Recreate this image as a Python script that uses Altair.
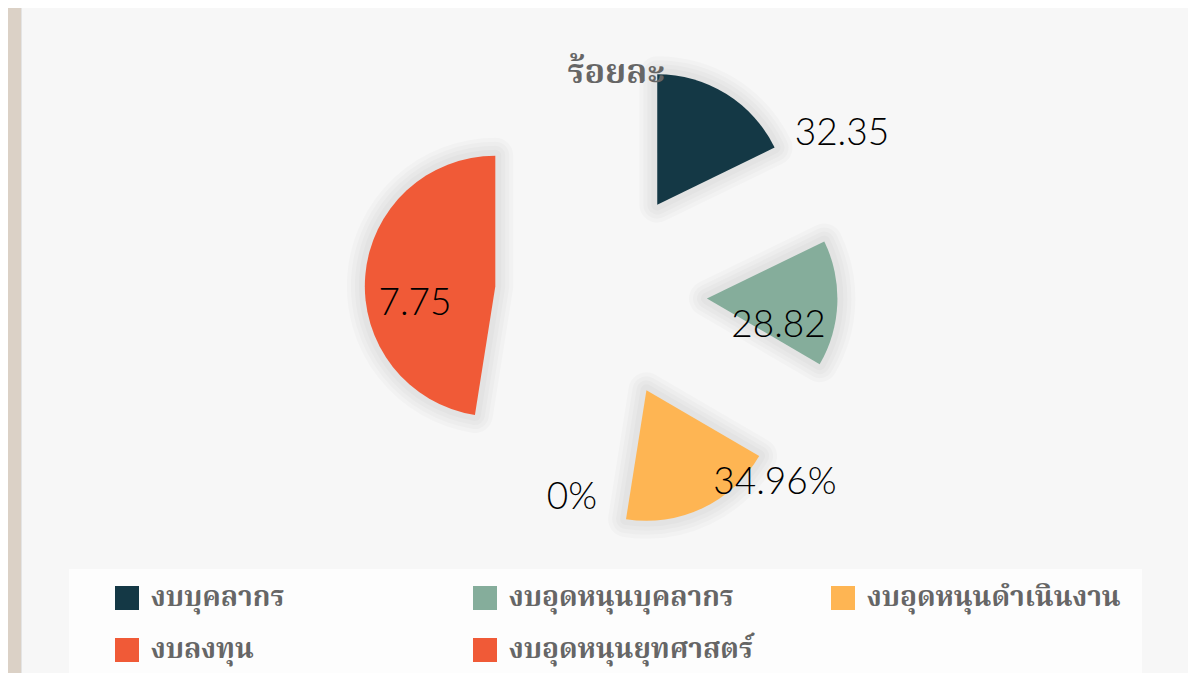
import altair as alt
import pandas as pd

# ---------------- data ----------------
categories = ["งบบุคลากร", "งบอุดหนุนบุคลากร", "งบอุดหนุนดำเนินงาน", "งบลงทุน", "งบอุดหนุนยุทศาสตร์"]
shares = [17.8, 15.6, 19.1, 0.0, 47.5]          # angular share of each slice (%)
value_labels = ["32.35", "28.82", "34.96%", "0%", "7.75"]
colors = ["#143845", "#85ad9b", "#feb553", "#f05a37", "#f05a37"]

# where each value label sits (angle from 12 o'clock in degrees, distance from pie centre)
label_angle = [56.3, 100.1, 137.3, 188.1, 267.2]
label_dist = [289.6, 180.3, 256.5, 205.6, 186.2]

title_text = ["ร้อยละ"]

# ---------------- layout ----------------
W, H = 1180, 665
CX, CY = 593, 286.5
R = 130.5
EXPLODE = 106
THAI = "Noto Serif Thai, Noto Sans Thai, Tahoma, serif"
NUM_FONT = "Lato"

df = pd.DataFrame({
    "cat": categories,
    "share": shares,
    "label": value_labels,
    "order": list(range(len(categories))),
    "la": label_angle,
    "ld": label_dist,
})

base = (
    alt.Chart(df)
    .transform_window(cum="sum(share)", sort=[alt.SortField("order")], frame=[None, 0])
    .transform_joinaggregate(total="sum(share)")
    .transform_calculate(
        t1="2*PI*datum.cum/datum.total",
        t0="2*PI*(datum.cum-datum.share)/datum.total",
    )
    .transform_calculate(mid="(datum.t0+datum.t1)/2")
    .transform_calculate(
        cx=f"{CX}+{EXPLODE}*sin(datum.mid)",
        cy=f"{CY}-{EXPLODE}*cos(datum.mid)",
        lx=f"{CX}+datum.ld*sin(datum.la*PI/180)",
        ly=f"{CY}-datum.ld*cos(datum.la*PI/180)",
    )
)

one = pd.DataFrame({"t": title_text})

panel = alt.Chart(one).mark_rect(color="#f7f7f7").encode(
    x=alt.value(13), x2=alt.value(W), y=alt.value(0), y2=alt.value(H)
)
panel_edge = alt.Chart(one).mark_rule(color="#e4e4e4", strokeWidth=1).encode(
    x=alt.value(13.5), y=alt.value(0), y2=alt.value(H)
)
legend_box = alt.Chart(one).mark_rect(color="#fdfdfd").encode(
    x=alt.value(61), x2=alt.value(1134), y=alt.value(561), y2=alt.value(H)
)

pos = dict(
    x=alt.X("cx:Q", scale=None),
    y=alt.Y("cy:Q", scale=None),
    theta=alt.Theta("t0:Q", scale=None),
    theta2=alt.Theta2("t1:Q"),
)

shadows = []
for w in [36, 28, 20, 12]:
    shadows.append(
        base.transform_filter("datum.share > 0")
        .mark_arc(radius=R, fill="#000", fillOpacity=0, stroke="#000",
                  strokeOpacity=0.02, strokeWidth=w, strokeJoin="round")
        .encode(**pos)
    )

arcs = base.transform_filter("datum.share > 0").mark_arc(radius=R).encode(
    color=alt.Color(
        "cat:N",
        scale=alt.Scale(domain=categories, range=colors),
        sort=categories,
        legend=alt.Legend(
            title=None, orient="none", legendX=105, legendY=576,
            direction="horizontal", columns=3, symbolType="square",
            symbolSize=576, symbolStrokeWidth=0, symbolOpacity=1,
            labelFont=THAI, labelFontSize=28, labelFontWeight="bold",
            labelColor="#666666", labelOffset=10, columnPadding=66,
            rowPadding=24, gridAlign="all", labelLimit=400, padding=0,
        ),
    ),
    **pos,
)

labels = base.mark_text(
    font=NUM_FONT, fontSize=37, fontWeight=300, color="#000",
    align="center", baseline="middle",
).encode(
    x=alt.X("lx:Q", scale=None),
    y=alt.Y("ly:Q", scale=None),
    text="label:N",
)

title = alt.Chart(one).mark_text(
    font=THAI, fontSize=34, fontWeight="bold", color="#666666",
    align="center", baseline="alphabetic",
).encode(x=alt.value(608), y=alt.value(75), text="t:N")

chart = alt.layer(panel, panel_edge, legend_box, *shadows, arcs, labels, title).properties(
    width=W, height=H, padding=0, autosize="none", background="#dbd1c6"
).configure_view(stroke=None)

chart.save("out.html", embed_options={"renderer": "svg", "actions": False})
